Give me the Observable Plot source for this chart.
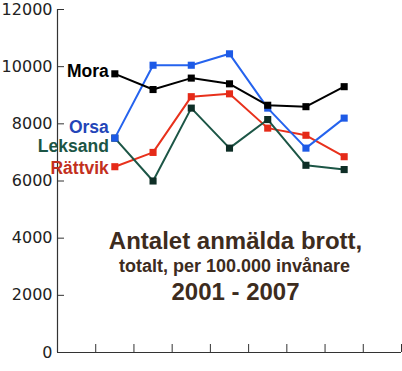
<!DOCTYPE html>
<html>
<head>
<meta charset="utf-8">
<script src="https://cdn.jsdelivr.net/npm/d3@7"></script>
<script src="https://cdn.jsdelivr.net/npm/@observablehq/plot@0.6"></script>
<style>
  html, body { margin: 0; padding: 0; background: #fff; }
  #chart svg { display: block; }
</style>
</head>
<body>
<div id="chart"></div>
<script>
const years = [2001, 2002, 2003, 2004, 2005, 2006, 2007];
const seriesNames = ["Rättvik", "Leksand", "Orsa", "Mora"];
const mora    = [9750, 9200, 9600, 9400, 8650, 8600, 9300];
const orsa    = [7500, 10050, 10050, 10450, 8550, 7150, 8200];
const leksand = [7500, 6000, 8550, 7150, 8150, 6550, 6400];
const rattvik = [6500, 7000, 8950, 9050, 7850, 7600, 6850];
const yTicks = [0, 2000, 4000, 6000, 8000, 10000, 12000];
const xTicks = [2000.5, 2001.5, 2002.5, 2003.5, 2004.5, 2005.5, 2006.5, 2007.5, 2008.5];
const titleLines = ["Antalet anmälda brott,", "totalt, per 100.000 invånare", "2001 - 2007"];

const valuesBy = {"Mora": mora, "Orsa": orsa, "Leksand": leksand, "Rättvik": rattvik};
const lineColor = {"Mora": "#000000", "Orsa": "#2563ee", "Leksand": "#1c5646", "Rättvik": "#e8311c"};
const dotColor = {"Mora": "#000000", "Orsa": "#1d5ae6", "Leksand": "#0e2e26", "Rättvik": "#e52a18"};
const labelColor = {"Mora": "#000000", "Orsa": "#2345b8", "Leksand": "#1c5545", "Rättvik": "#c3301e"};
const labelDy = {"Mora": -2, "Orsa": -11, "Leksand": 8, "Rättvik": 1.5};

const rows = seriesNames.flatMap(s => years.map((y, i) => ({series: s, year: y, value: valuesBy[s][i]})));

const marks = [
  Plot.ruleX([1999.5], {stroke: "#333", strokeWidth: 1.2}),
  Plot.ruleY([0], {stroke: "#333", strokeWidth: 1.2}),
  Plot.gridY(yTicks, {stroke: "#333", strokeOpacity: 1, strokeWidth: 1, insetRight: 337}),
  Plot.gridX(xTicks, {stroke: "#333", strokeOpacity: 1, strokeWidth: 1, insetTop: 335}),
  Plot.axisY(yTicks, {tickSize: 0, tickPadding: 5, fontSize: 16, fontFamily: "DejaVu Sans", fill: "#222", tickFormat: d => String(d), label: null}),
];
for (const s of seriesNames) {
  const data = rows.filter(r => r.series === s);
  marks.push(Plot.line(data, {x: "year", y: "value", stroke: lineColor[s], strokeWidth: 2}));
  marks.push(Plot.dot(data, {x: "year", y: "value", symbol: "square", r: 4, fill: dotColor[s], stroke: "none"}));
}
for (const s of seriesNames) {
  const first = rows.filter(r => r.series === s)[0];
  marks.push(Plot.text([first], {x: "year", y: "value", text: d => d.series, textAnchor: "end", dx: -6, dy: labelDy[s],
    fill: labelColor[s], fontSize: 17.5, fontWeight: "bold", fontFamily: "Liberation Sans, Arial, sans-serif"}));
}
marks.push(Plot.text([titleLines[0]], {frameAnchor: "middle", dx: 6, dy: 60, fontSize: 24, fontWeight: "bold", fill: "#3d2c1e", fontFamily: "Liberation Sans, Arial, sans-serif"}));
marks.push(Plot.text([titleLines[1]], {frameAnchor: "middle", dx: 5, dy: 85, fontSize: 18, fontWeight: "bold", fill: "#3d2c1e", fontFamily: "Liberation Sans, Arial, sans-serif"}));
marks.push(Plot.text([titleLines[2]], {frameAnchor: "middle", dx: 6, dy: 111, fontSize: 24, fontWeight: "bold", fill: "#3d2c1e", fontFamily: "Liberation Sans, Arial, sans-serif"}));

const chart = Plot.plot({
  width: 402,
  height: 371,
  marginLeft: 57,
  marginRight: 1,
  marginTop: 9,
  marginBottom: 19,
  style: {background: "#fff", overflow: "visible"},
  x: {domain: [1999.5, 2008.5], axis: null},
  y: {domain: [0, 12000], axis: null},
  marks
});
document.getElementById("chart").appendChild(chart);
</script>
</body>
</html>
